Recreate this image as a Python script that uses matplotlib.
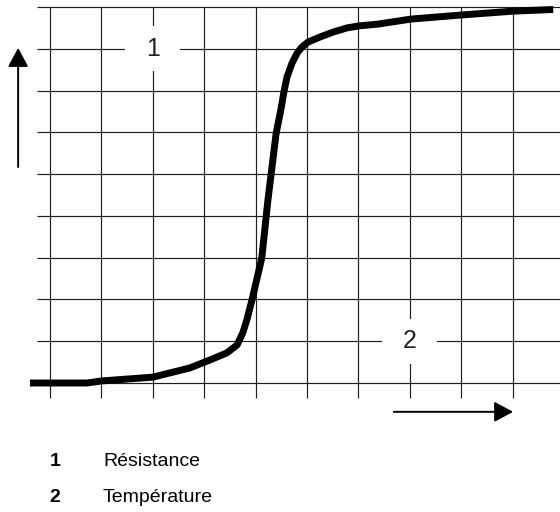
import matplotlib
matplotlib.use("Agg")
import matplotlib.pyplot as plt
from matplotlib.patches import Rectangle

plt.rcParams['font.family'] = ['Liberation Sans', 'DejaVu Sans']

# ---- data (grid units) ----
temperature = [-0.39, 0.72, 1.01, 2.00, 2.72, 3.11, 3.44, 3.64, 3.75, 3.83,
               3.93, 4.12, 4.24, 4.40, 4.49, 4.55, 4.61, 4.71, 4.81, 4.90,
               5.02, 5.25, 5.51, 5.78, 6.03, 6.38, 7.02, 8.02, 9.01, 9.79]
resistance = [0.00, 0.00, 0.05, 0.14, 0.36, 0.55, 0.72, 0.91, 1.20, 1.51,
              1.99, 2.99, 4.38, 5.98, 6.53, 6.96, 7.32, 7.66, 7.90, 8.04,
              8.16, 8.28, 8.40, 8.50, 8.55, 8.59, 8.71, 8.81, 8.90, 8.94]
x_grid = list(range(10))
y_grid = list(range(10))
axis_labels = ["1", "2"]
legend_numbers = ["1", "2"]
legend_texts = ["Résistance", "Température"]

# pixel scale of one grid unit
ux, uy = 51.4, 41.78

fig = plt.figure(figsize=(5.6, 5.12), dpi=100)
ax = fig.add_axes([0, 0, 1, 1])
ax.set_xlim(-50 / ux, 510 / ux)
ax.set_ylim(-129 / uy, 383 / uy)
ax.axis('off')

grid_kw = dict(color='#1f1f1f', lw=0.85, zorder=1)
ax.hlines(y_grid, -13 / ux, 510 / ux, **grid_kw)
ax.vlines(x_grid, -15 / uy, y_grid[-1], **grid_kw)

# axis labels with white gaps
for lbl, (cx, cy) in zip(axis_labels, [(2, 8), (7, 1)]):
    w, h = 55 / ux, 45 / uy
    ax.add_patch(Rectangle((cx - w / 2, cy - h / 2), w, h, facecolor='white',
                           edgecolor='none', zorder=2))
    ax.text(cx, cy, lbl, ha='center', va='center', fontsize=18,
            color='#222222', zorder=3)

ax.plot(temperature, resistance, color='black', lw=5,
        solid_capstyle='butt', solid_joinstyle='round', zorder=4)

arrow_kw = dict(arrowstyle='-|>,head_length=1.15,head_width=0.62',
                mutation_scale=10, color='black', lw=1.4,
                shrinkA=0, shrinkB=0)
ax.annotate('', xy=(-0.62, 8.02), xytext=(-0.62, 5.17), arrowprops=arrow_kw)
ax.annotate('', xy=(9.01, -0.69), xytext=(6.69, -0.69), arrowprops=arrow_kw)

for i, (num, txt) in enumerate(zip(legend_numbers, legend_texts)):
    yy = 1 - (461 + 37 * i) / 512
    fig.text(55 / 560, yy, num, ha='center', va='center', fontsize=14,
             fontweight='bold')
    fig.text(103 / 560, yy, txt, ha='left', va='center', fontsize=14)

fig.savefig('out.png', dpi=100)
